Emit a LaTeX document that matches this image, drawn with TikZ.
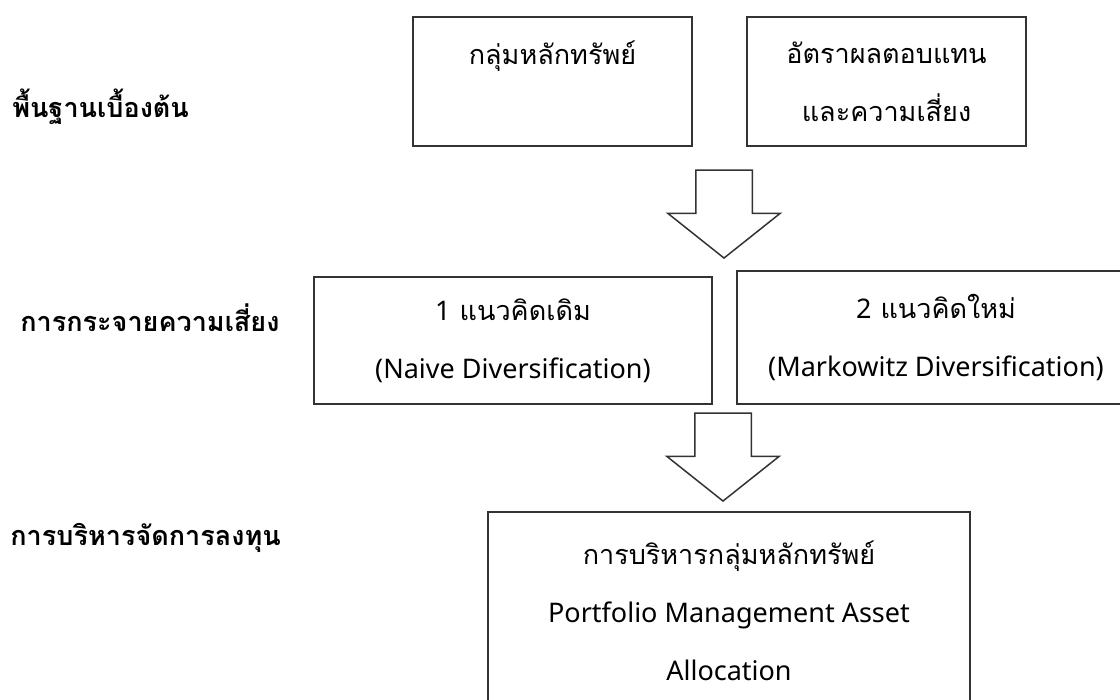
\documentclass[tikz,border=0pt]{standalone}
\usepackage{fontspec}
\setmainfont[Script=Thai]{Loma}
\newfontfamily\latinfont{Noto Sans}
\newcommand\lat[1]{{\latinfont #1}}
\usetikzlibrary{shapes.arrows}

\begin{document}
\begin{tikzpicture}[x=0.5pt, y=-0.5pt, every node/.style={font=\fontsize{13.5}{29}\selectfont}]
  \tikzstyle{box} = [draw=black!80, line width=0.75pt, rectangle, align=center, inner sep=0pt]
  \tikzstyle{blockarrow} = [draw=black!80, line width=0.75pt, single arrow, shape border rotate=270, minimum height=44pt, inner sep=13.75pt, single arrow head extend=14pt, single arrow tip angle=103, anchor=tip]
  \tikzstyle{level} = [font=\bfseries\fontsize{13.5}{20}\selectfont, anchor=base west, inner sep=0pt]
  \path[use as bounding box, clip] (0,0) rectangle (1120,700);
  \node[level] (basic) at (12,118) {พื้นฐานเบื้องต้น};
  \node[level] (diversify) at (20,332) {การกระจายความเสี่ยง};
  \node[level] (invest) at (10,545) {การบริหารจัดการลงทุน};
  \node[box, minimum width=139.5pt, minimum height=64.5pt] (group) at (552.5,81.5) {กลุ่มหลักทรัพย์\\ \mbox{}};
  \node[box, minimum width=139.5pt, minimum height=64.5pt] (ret) at (886.5,81.5) {อัตราผลตอบแทน\\และความเสี่ยง};
  \node[blockarrow] (arrA) at (724,259) {};
  \node[box, minimum width=199pt, minimum height=63.5pt] (naive) at (513,340.5) {\lat{1} แนวคิดเดิม\\\lat{(Naive Diversification)}};
  \node[box, minimum width=199pt, minimum height=66.5pt] (markowitz) at (936,337.5) {\lat{2} แนวคิดใหม่\\\lat{(Markowitz Diversification)}};
  \node[blockarrow] (arrB) at (723,502) {};
  \node[box, minimum width=241pt, minimum height=99pt] (manage) at (729,611) {การบริหารกลุ่มหลักทรัพย์\\\lat{Portfolio Management Asset}\\\lat{Allocation}};
\end{tikzpicture}
\end{document}
